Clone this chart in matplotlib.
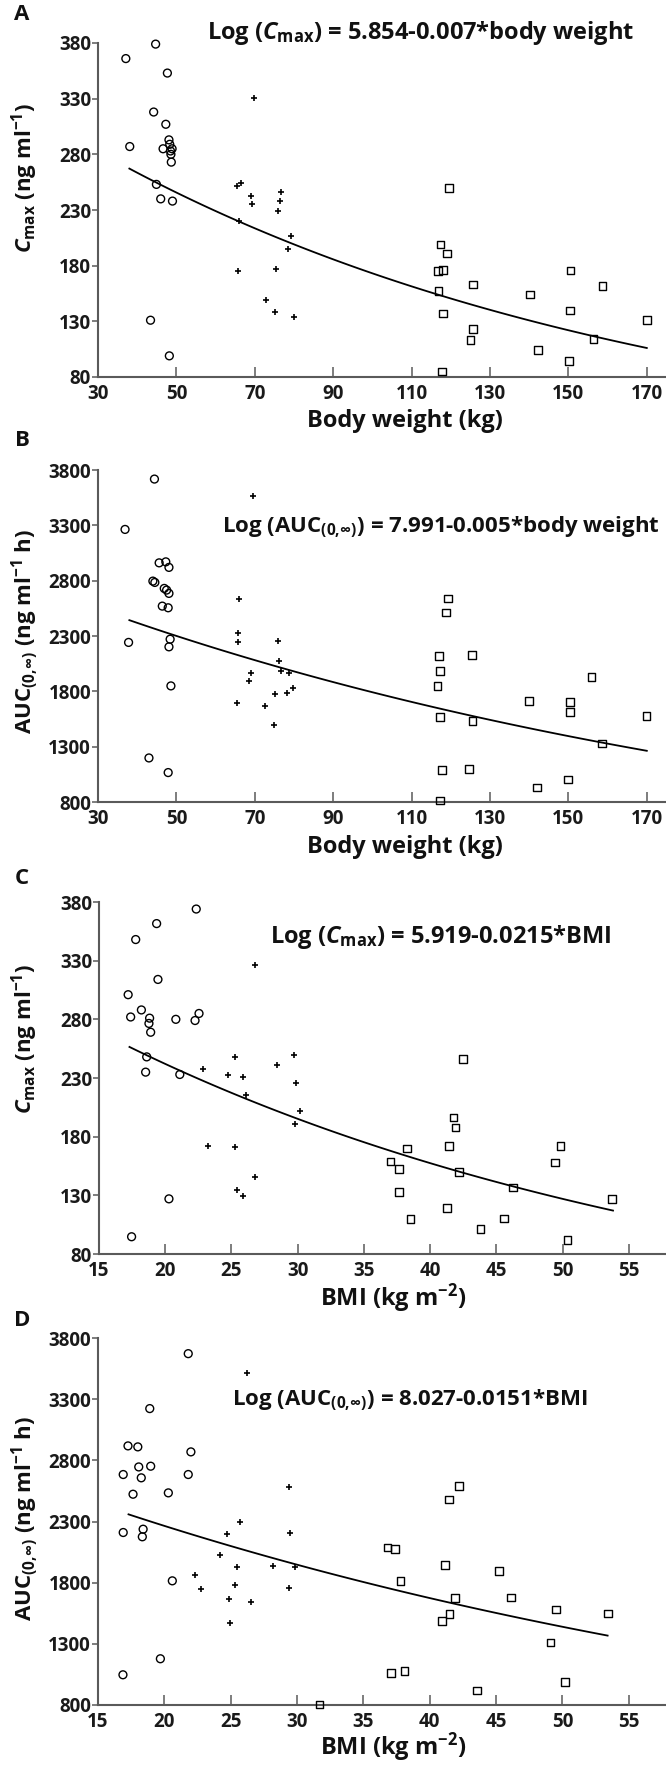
import numpy as np
import matplotlib
matplotlib.use("Agg")
import matplotlib.pyplot as plt

plt.rcParams['font.family'] = ['Open Sans', 'DejaVu Sans']
plt.rcParams['font.weight'] = 'bold'
plt.rcParams['mathtext.fontset'] = 'custom'
plt.rcParams['mathtext.rm'] = 'Open Sans:bold'
plt.rcParams['mathtext.it'] = 'Open Sans:italic:bold'
plt.rcParams['mathtext.bf'] = 'Open Sans:bold'

# ---- Panel A: Cmax vs body weight ----
a_circ_x = [37.1, 44.7, 38.1, 47.7, 44.2, 47.3, 48.1, 48.3, 46.6, 48.9, 48.5, 48.6, 48.7, 44.9, 46.0, 49.0, 43.4, 48.2]
a_circ_y = [366, 379, 287, 353, 318, 307, 293, 289, 285, 285, 283, 280, 273, 253, 240, 238, 131, 99]
a_plus_x = [69.8, 65.4, 66.5, 69.1, 69.4, 76.7, 76.5, 76.0, 65.9, 79.3, 78.5, 65.7, 75.4, 72.8, 75.1, 80.0]
a_plus_y = [331, 252, 254, 243, 235, 246, 238, 229, 220, 207, 195, 175, 177, 149, 138, 134]
a_sq_x = [119.5, 117.4, 119.0, 116.8, 118.0, 125.6, 116.9, 140.2, 150.5, 158.7, 118.0, 150.4, 170.0, 125.7, 125.0, 156.4, 142.3, 150.2, 117.8]
a_sq_y = [249.5, 199, 191, 175, 176, 163, 157, 154, 175.5, 162, 137, 139.6, 131, 123, 113, 114, 104, 94.6, 85]

# ---- Panel B: AUC vs body weight ----
b_circ_x = [44.4, 36.9, 45.6, 47.3, 48.1, 44.0, 44.5, 46.9, 47.5, 48.1, 46.4, 47.9, 37.8, 48.4, 48.1, 48.6, 43.0, 47.9]
b_circ_y = [3718, 3263, 2961, 2970, 2920, 2796, 2784, 2730, 2715, 2685, 2570, 2555, 2242, 2271, 2202, 1849, 1198, 1066]
b_plus_x = [69.6, 66.0, 65.8, 65.6, 76.0, 76.3, 76.7, 78.7, 69.0, 68.6, 75.2, 78.1, 79.7, 65.5, 72.6, 74.9]
b_plus_y = [3565, 2631, 2329, 2247, 2253, 2075, 1985, 1970, 1970, 1894, 1780, 1786, 1826, 1695, 1668, 1500]
b_sq_x = [119.3, 118.7, 117.0, 125.4, 117.3, 116.6, 155.9, 140.0, 150.4, 150.4, 117.3, 125.5, 169.9, 158.5, 117.8, 124.6, 149.9, 142.0, 117.3]
b_sq_y = [2640, 2513, 2120, 2127, 1985, 1849, 1931, 1711, 1704, 1614, 1569, 1530, 1578, 1328, 1087, 1096, 1005, 930, 815]

# ---- Panel C: Cmax vs BMI ----
c_circ_x = [22.34, 19.35, 17.77, 19.45, 17.2, 17.39, 18.2, 18.82, 18.77, 18.9, 20.8, 22.25, 22.55, 18.6, 18.52, 21.1, 20.28, 17.46]
c_circ_y = [374, 361.6, 348, 314, 301, 282, 288, 281, 276.5, 269, 280, 279, 285, 248, 235, 233, 127, 94.7]
c_plus_x = [26.77, 25.26, 29.7, 28.4, 22.87, 24.76, 25.9, 29.9, 26.1, 30.2, 29.8, 23.2, 25.3, 26.8, 25.4, 25.85]
c_plus_y = [326, 248, 249.5, 241, 238, 232.5, 231, 226, 215.5, 202, 190.6, 172, 171.5, 145.5, 134.7, 129.6]
c_sq_x = [42.47, 41.77, 41.92, 41.42, 49.85, 38.25, 36.99, 37.64, 42.17, 49.4, 46.25, 53.74, 37.64, 41.26, 38.5, 45.55, 43.8, 50.35]
c_sq_y = [246, 196.5, 187.7, 172, 172, 170, 158.8, 152.6, 150, 158, 136.7, 127, 133, 119, 110, 110.3, 101.5, 92]

# ---- Panel D: AUC vs BMI ----
d_circ_x = [21.8, 18.9, 17.26, 18.0, 22.0, 18.07, 18.97, 16.9, 21.8, 18.26, 17.64, 20.3, 16.9, 18.4, 18.34, 20.6, 19.7, 16.88]
d_circ_y = [3672, 3223, 2918, 2910, 2869, 2746, 2752, 2684, 2684, 2657, 2523, 2534, 2210, 2237, 2175, 1815, 1178, 1047]
d_plus_x = [26.2, 29.37, 25.7, 24.7, 29.5, 24.2, 28.16, 25.45, 29.85, 22.3, 25.35, 22.74, 29.37, 24.85, 26.5, 24.95]
d_plus_y = [3514, 2578, 2292, 2197, 2210, 2025, 1938, 1930, 1930, 1859, 1780, 1750, 1758, 1666, 1639, 1467]
d_sq_x = [31.7, 42.2, 41.45, 36.8, 37.4, 41.15, 45.2, 37.8, 41.88, 46.1, 49.5, 53.45, 41.5, 40.9, 49.1, 37.08, 38.1, 50.2, 43.56]
d_sq_y = [805, 2589, 2480, 2088, 2074, 1943, 1897, 1813, 1676, 1680, 1582, 1549, 1543, 1489, 1312, 1064, 1080, 990, 917]

# regression equations printed on the chart: log(y) = a + b*x
fit_a = [5.854, 7.991, 5.919, 8.027]
fit_b = [-0.007, -0.005, -0.0215, -0.0151]
fit_range = [(38, 170), (38, 170), (17.3, 53.8), (17.3, 53.4)]

eqs = [r"Log ($\mathit{C}_{\mathrm{max}}$) = 5.854-0.007*body weight",
       r"Log (AUC$_{(0,\!\infty)}$) = 7.991-0.005*body weight",
       r"Log ($\mathit{C}_{\mathrm{max}}$) = 5.919-0.0215*BMI",
       r"Log (AUC$_{(0,\!\infty)}$) = 8.027-0.0151*BMI"]
ylabels = [r"$\mathit{C}_{\mathrm{max}}$ (ng ml$^{-1}$)",
           r"AUC$_{(0,\!\infty)}$ (ng ml$^{-1}$ h)",
           r"$\mathit{C}_{\mathrm{max}}$ (ng ml$^{-1}$)",
           r"AUC$_{(0,\!\infty)}$ (ng ml$^{-1}$ h)"]
xlabels = ["Body weight (kg)", "Body weight (kg)", r"BMI (kg m$^{-2}$)", r"BMI (kg m$^{-2}$)"]
letters = ["A", "B", "C", "D"]

wt_ticks = [30, 50, 70, 90, 110, 130, 150, 170]
bmi_ticks = [15, 20, 25, 30, 35, 40, 45, 50, 55]
cmax_ticks = [80, 130, 180, 230, 280, 330, 380]
auc_ticks = [800, 1300, 1800, 2300, 2800, 3300, 3800]

data = [
    (a_circ_x, a_circ_y, a_plus_x, a_plus_y, a_sq_x, a_sq_y),
    (b_circ_x, b_circ_y, b_plus_x, b_plus_y, b_sq_x, b_sq_y),
    (c_circ_x, c_circ_y, c_plus_x, c_plus_y, c_sq_x, c_sq_y),
    (d_circ_x, d_circ_y, d_plus_x, d_plus_y, d_sq_x, d_sq_y),
]

W, H = 666, 1766
fig = plt.figure(figsize=(W / 100, H / 100), dpi=100)

# axes boxes in pixels: left, top, right, bottom
boxes = [(98, 43, 666, 377), (98, 470, 666, 802), (99, 902, 666, 1254), (98, 1338, 666, 1705)]
xlims = [(30, 174.9), (30, 174.9), (15, 57.8), (15, 57.8)]
ylims = [(80, 380), (800, 3800), (80, 380), (800, 3800)]
eq_pos = [(207, 33), (222, 527), (270, 937), (232, 1400)]
eq_size = [17, 16, 17, 16]
xlab_pos = [(405, 421), (405, 847), (393, 1298), (393, 1747)]
ylab_pos = [(25, 178), (25, 631), (25, 1039), (25, 1518)]
letter_pos = [(22, 15), (22, 440), (22, 878), (22, 1320)]

spine_col = '#5a5a5a'

for i in range(4):
    l, t, r, b = boxes[i]
    ax = fig.add_axes([l / W, 1 - b / H, (r - l) / W, (b - t) / H])
    cx, cy, px, py, sx, sy = data[i]
    ax.scatter(cx, cy, s=32, facecolors='none', edgecolors='black', linewidths=1.0, clip_on=False, zorder=3)
    ax.scatter(px, py, s=22, marker='+', color='black', linewidths=1.2, clip_on=False, zorder=3)
    ax.scatter(sx, sy, s=30, marker='s', facecolors='none', edgecolors='black', linewidths=1.0, clip_on=False, zorder=3)

    xf = np.linspace(fit_range[i][0], fit_range[i][1], 100)
    ax.plot(xf, np.exp(fit_a[i] + fit_b[i] * xf), color='black', lw=1.3, zorder=2)

    ax.set_xlim(*xlims[i])
    ax.set_ylim(*ylims[i])
    ax.set_xticks(wt_ticks if i < 2 else bmi_ticks)
    ax.set_yticks(cmax_ticks if i % 2 == 0 else auc_ticks)
    for s in ['top', 'right']:
        ax.spines[s].set_visible(False)
    for s in ['left', 'bottom']:
        ax.spines[s].set_color(spine_col)
        ax.spines[s].set_linewidth(1.5)
    ax.tick_params(axis='x', direction='in', length=7, width=1.1, color=spine_col,
                   labelcolor='#1a1a1a', labelsize=13.5, pad=5)
    ax.tick_params(axis='y', direction='out', length=4.5, width=1.1, color=spine_col,
                   labelcolor='#1a1a1a', labelsize=13.5, pad=0.5)

    fig.text(xlab_pos[i][0] / W, 1 - xlab_pos[i][1] / H, xlabels[i], fontsize=17,
             fontweight='bold', ha='center', va='center', color='#111')
    fig.text(eq_pos[i][0] / W, 1 - eq_pos[i][1] / H, eqs[i], fontsize=eq_size[i],
             fontweight='bold', ha='left', va='center', color='#111')
    fig.text(ylab_pos[i][0] / W, 1 - ylab_pos[i][1] / H, ylabels[i], fontsize=16,
             fontweight='bold', rotation=90, ha='center', va='center', color='#111')
    fig.text(letter_pos[i][0] / W, 1 - letter_pos[i][1] / H, letters[i], fontsize=16,
             fontweight='bold', ha='center', va='center', color='#111')

fig.savefig("out.png", dpi=100)
